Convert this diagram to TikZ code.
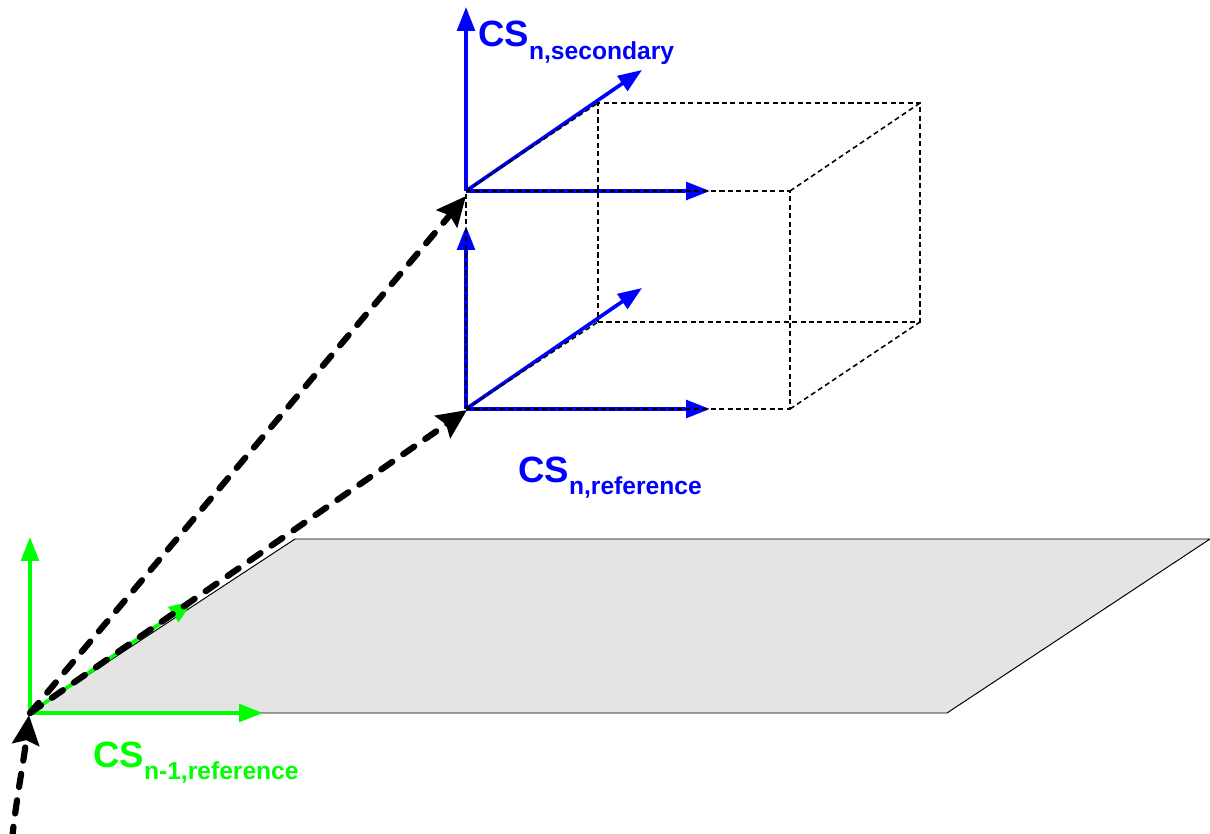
\documentclass[tikz,border=0pt]{standalone}
\usepackage{fontspec}
\setmainfont{Liberation Sans}
\usepackage{xcolor}
\usetikzlibrary{arrows.meta}
\definecolor{csgreen}{RGB}{0,255,0}
\definecolor{csblue}{RGB}{0,0,255}
\definecolor{planegray}{RGB}{228,228,228}
\newcommand{\cslabel}[1]{\bfseries\fontsize{26}{26}\selectfont CS\raisebox{-9pt}{\fontsize{17.5}{18}\selectfont #1}}

\begin{document}
\begin{tikzpicture}[x=0.025cm, y=-0.025cm]
	% Define styles
	\tikzstyle{every node}=[inner sep=0pt, anchor=base west]
	\tikzstyle{axis}=[line width=2.6pt, -{Triangle[length=17pt, width=12.5pt]}]
	\tikzstyle{edge}=[black, line width=1.1pt, dash pattern=on 3.6pt off 2.4pt]
	\tikzstyle{vector}=[black, line width=4.4pt, line cap=round, dash pattern=on 9.5pt off 9.5pt, -{Stealth[length=21pt, width=19pt, inset=3pt]}]
	
	\useasboundingbox (0,0) rectangle (1210,834);
	
	% plane
	\coordinate (o) at (30,713);
	\coordinate (p1) at (295,539);
	\coordinate (p2) at (1210,539);
	\coordinate (p3) at (947,713);
	\draw[fill=planegray, line width=0.7pt] (o) -- (p1) -- (p2) -- (p3) -- cycle;
	
	% n-1 reference
	\begin{scope}[csgreen]
		\coordinate (gu) at (30,537);
		\coordinate (gr) at (263,713);
		\coordinate (gd) at (193,601);
		\draw[axis] (o) -- (gu);
		\draw[axis] (o) -- (gr);
		\draw[axis] (o) -- (gd);
		\node[text=csgreen] (lg) at (93,767) {\cslabel{n-1,reference}};
	\end{scope}
	
	% box corners
	\coordinate (a) at (466,409);
	\coordinate (b) at (790,409);
	\coordinate (c) at (790,191);
	\coordinate (d) at (466,191);
	\coordinate (e) at (598,322);
	\coordinate (f) at (920,322);
	\coordinate (g) at (920,103);
	\coordinate (h) at (598,103);
	
	% n reference and n secondary
	\begin{scope}[csblue]
		\coordinate (au) at (466,226);
		\coordinate (ar) at (710,409);
		\coordinate (ad) at (642,288);
		\coordinate (du) at (466,7);
		\coordinate (dr) at (710,191);
		\coordinate (dd) at (642,70);
		\draw[axis] (a) -- (au);
		\draw[axis] (a) -- (ar);
		\draw[axis] (a) -- (ad);
		\draw[axis] (d) -- (du);
		\draw[axis] (d) -- (dr);
		\draw[axis] (d) -- (dd);
		\node[text=csblue] (ls) at (478,47) {\cslabel{n,secondary}};
		\node[text=csblue] (lr) at (518,482) {\cslabel{n,reference}};
	\end{scope}
	
	\draw[edge] (a) -- (b) -- (c) -- (d) -- cycle;
	\draw[edge] (e) -- (f) -- (g) -- (h) -- cycle;
	\draw[edge] (a) -- (e);
	\draw[edge] (b) -- (f);
	\draw[edge] (c) -- (g);
	\draw[edge] (d) -- (h);
	
	% dashed vectors
	\coordinate (s) at (12,840);
	\coordinate (t) at (466,196);
	\coordinate (q) at (467,410);
	\coordinate (v) at (29,715);
	\draw[vector] (s) .. controls (16,800) and (24,760) .. (v);
	\draw[vector] (o) -- (t);
	\draw[vector] (o) -- (q);
\end{tikzpicture}
\end{document}
